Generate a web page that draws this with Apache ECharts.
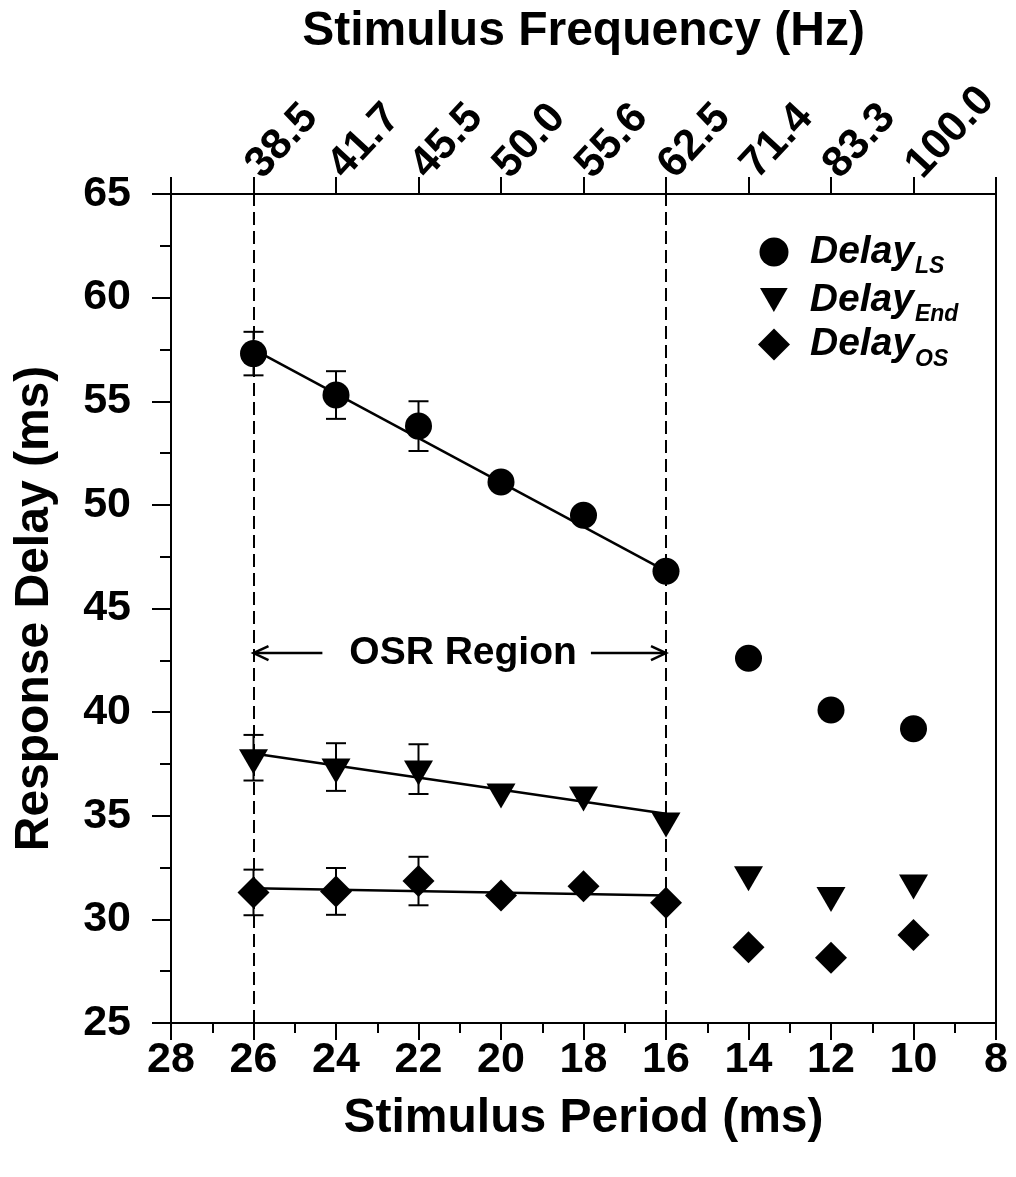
<!DOCTYPE html>
<html><head><meta charset="utf-8">
<script src="https://cdn.jsdelivr.net/npm/echarts@6/dist/echarts.min.js"></script>
<style>html,body{margin:0;padding:0;background:#fff}#c{width:1016px;height:1177px}</style>
</head><body><div id="c"></div>
<script>
// ---- data ----
const periods = [26, 24, 22, 20, 18, 16, 14, 12, 10];
const delayLS = [57.3, 55.3, 53.8, 51.1, 49.5, 46.8, 42.6, 40.1, 39.2];
const delayEnd = [37.8, 37.35, 37.25, 36.15, 36.0, 34.75, 32.15, 31.15, 31.75];
const delayOS = [31.3, 31.35, 31.85, 31.15, 31.6, 30.8, 28.65, 28.15, 29.25];
const errPeriods = [26, 24, 22];
const errLS = [1.05, 1.15, 1.2];
const errEnd = [1.1, 1.15, 1.2];
const errOS = [1.1, 1.13, 1.17];
const fitPeriods = [26, 16];
const fitLS = [57.5, 46.8];
const fitEnd = [38.0, 35.1];
const fitOS = [31.5, 31.15];
const osrBounds = [26, 16];
const freqTickPeriods = [26, 24, 22, 20, 18, 16, 14, 12, 10];
const freqTickLabels = ['38.5', '41.7', '45.5', '50.0', '55.6', '62.5', '71.4', '83.3', '100.0'];
const osrLabel = 'OSR Region';
const osrY = 42.85;
const osrArrowTails = [24.33, 17.82];
const osrArrowTips = [26, 16];
const osrLabelX = 20.92;
const legendMain = 'Delay';
const legendSubs = ['LS', 'End', 'OS'];
const seriesNames = ['DelayLS', 'DelayEnd', 'DelayOS'];

const FONT = '"Liberation Sans", Arial, Helvetica, sans-serif';
const BLACK = '#000';
const triPath = 'path://M0,0L20,0L10,17.32Z';

function pts(xs, ys) { return xs.map((x, i) => [x, ys[i]]); }

function errSeries(name, ys, es) {
  return {
    type: 'custom', name: name + '_err', silent: true, z: 3,
    encode: { x: 0, y: 1 },
    data: errPeriods.map((x, i) => [x, ys[i], es[i]]),
    renderItem(params, api) {
      const x = api.value(0), y = api.value(1), e = api.value(2);
      const t = api.coord([x, y + e]), b = api.coord([x, y - e]);
      const cw = 10, st = { stroke: BLACK, lineWidth: 2 };
      return { type: 'group', children: [
        { type: 'line', shape: { x1: t[0], y1: t[1], x2: b[0], y2: b[1] }, style: st },
        { type: 'line', shape: { x1: t[0] - cw, y1: t[1], x2: t[0] + cw, y2: t[1] }, style: st },
        { type: 'line', shape: { x1: b[0] - cw, y1: b[1], x2: b[0] + cw, y2: b[1] }, style: st }
      ]};
    }
  };
}
function fitSeries(name, ys, extra) {
  return Object.assign({
    type: 'line', name: name + '_fit', data: pts(fitPeriods, ys), symbol: 'none', silent: true, z: 2,
    lineStyle: { color: BLACK, width: 2.5 }
  }, extra || {});
}

const symbols = ['circle', triPath, 'diamond'];
const symbolSizes = [27, [29, 25], [32, 32]];
const symbolOffsets = [[0, 0], [0, 4], [0, 0]];
const allY = [delayLS, delayEnd, delayOS];

const legendW = [29, 28, 32];
const legendH = [29, 24, 32];
const legendRowY = [251.5, 299.5, 344];

const chart = echarts.init(document.getElementById('c'));
const axisBase = {
  type: 'value', min: 8, max: 28, interval: 2, inverse: true,
  axisLine: { show: true, onZero: false, lineStyle: { color: BLACK, width: 2 } },
  splitLine: { show: false }, minorSplitLine: { show: false }
};
const TICKFONT = 43;
chart.setOption({
  animation: false,
  backgroundColor: '#fff',
  textStyle: { fontFamily: FONT, color: BLACK },
  grid: { left: 171, right: 20, top: 194, bottom: 154, show: true, borderColor: BLACK, borderWidth: 2 },
  xAxis: [
    Object.assign({}, axisBase, {
      position: 'bottom',
      axisTick: { show: true, length: 17, lineStyle: { color: BLACK, width: 2 } },
      minorTick: { show: true, splitNumber: 2, length: 10, lineStyle: { color: BLACK, width: 2 } },
      axisLabel: { fontSize: TICKFONT, fontWeight: 'bold', color: BLACK, fontFamily: FONT, margin: 16, showMinLabel: true, showMaxLabel: true },
      name: 'Stimulus Period (ms)', nameLocation: 'middle', nameGap: 72,
      nameTextStyle: { fontSize: 48, fontWeight: 'bold', color: BLACK, fontFamily: FONT }
    }),
    Object.assign({}, axisBase, {
      position: 'top',
      axisTick: { show: true, length: 17, lineStyle: { color: BLACK, width: 2 } },
      minorTick: { show: false },
      axisLabel: {
        fontSize: TICKFONT, fontWeight: 'bold', color: BLACK, fontFamily: FONT, rotate: -47, margin: 22,
        showMinLabel: true, showMaxLabel: true,
        formatter: v => { const i = freqTickPeriods.indexOf(v); return i >= 0 ? freqTickLabels[i] : ''; }
      },
      name: 'Stimulus Frequency (Hz)', nameLocation: 'middle', nameGap: 138,
      nameTextStyle: { fontSize: 48, fontWeight: 'bold', color: BLACK, fontFamily: FONT }
    })
  ],
  yAxis: [{
    type: 'value', min: 25, max: 65, interval: 5,
    axisLine: { show: true, onZero: false, lineStyle: { color: BLACK, width: 2 } },
    axisTick: { show: true, length: 19, lineStyle: { color: BLACK, width: 2 } },
    minorTick: { show: true, splitNumber: 2, length: 11, lineStyle: { color: BLACK, width: 2 } },
    splitLine: { show: false }, minorSplitLine: { show: false },
    axisLabel: { fontSize: TICKFONT, fontWeight: 'bold', color: BLACK, fontFamily: FONT, margin: 40, showMinLabel: true, showMaxLabel: true },
    name: 'Response Delay (ms)', nameLocation: 'middle', nameGap: 112,
    nameTextStyle: { fontSize: 48, fontWeight: 'bold', color: BLACK, fontFamily: FONT }
  }],
  legend: seriesNames.map((n, i) => ({
    data: [{ name: n, icon: symbols[i] }],
    selectedMode: false, orient: 'vertical', padding: 0,
    left: 774 - legendW[i] / 2, top: legendRowY[i] - 26,
    itemWidth: legendW[i], itemHeight: legendH[i],
    itemStyle: { color: BLACK },
    formatter: () => '{b|' + legendMain + '}{s|' + legendSubs[i] + '}',
    textStyle: {
      rich: {
        b: { fontSize: 39, fontWeight: 'bold', fontStyle: 'italic', color: BLACK, fontFamily: FONT, lineHeight: 52, padding: [0, 0, 0, 31 - legendW[i] / 2] },
        s: { fontSize: 23, fontWeight: 'bold', fontStyle: 'italic', color: BLACK, fontFamily: FONT, lineHeight: 22, padding: [30, 0, 0, 1] }
      }
    }
  })),
  series: [
    fitSeries('LS', fitLS, {
      markLine: {
        silent: true, symbol: 'none', label: { show: false },
        lineStyle: { color: BLACK, width: 2, type: [13, 6] },
        data: osrBounds.map(v => ({ xAxis: v }))
      }
    }),
    fitSeries('End', fitEnd),
    fitSeries('OS', fitOS),
    errSeries('LS', delayLS, errLS),
    errSeries('End', delayEnd, errEnd),
    errSeries('OS', delayOS, errOS),
    ...seriesNames.map((n, i) => ({
      type: 'scatter', name: n, data: pts(periods, allY[i]), z: 4,
      symbol: symbols[i], symbolSize: symbolSizes[i], symbolOffset: symbolOffsets[i],
      itemStyle: { color: BLACK, opacity: 1 }
    })),
    {
      type: 'custom', name: 'osrArrows', silent: true, z: 3,
      encode: { x: [0, 2], y: 1 },
      data: osrArrowTails.map((t, i) => [t, osrY, osrArrowTips[i]]),
      renderItem(params, api) {
        const a = api.coord([api.value(0), api.value(1)]);
        const b = api.coord([api.value(2), api.value(1)]);
        const d = Math.sign(b[0] - a[0]);
        const st = { stroke: BLACK, lineWidth: 2.5, fill: null };
        return { type: 'group', children: [
          { type: 'line', shape: { x1: a[0], y1: a[1], x2: b[0], y2: b[1] }, style: st },
          { type: 'polyline', shape: { points: [[b[0] - d * 15, b[1] - 7], [b[0], b[1]], [b[0] - d * 15, b[1] + 7]] }, style: st }
        ]};
      }
    },
    {
      type: 'custom', name: 'osrLabel', silent: true, z: 3,
      encode: { x: 0, y: 1 },
      data: [[osrLabelX, osrY]],
      renderItem(params, api) {
        const p = api.coord([api.value(0), api.value(1)]);
        return { type: 'text', style: { text: osrLabel, x: p[0], y: p[1], align: 'center', verticalAlign: 'middle',
          font: 'bold 39px ' + FONT, fill: BLACK } };
      }
    }
  ]
});
</script></body></html>
